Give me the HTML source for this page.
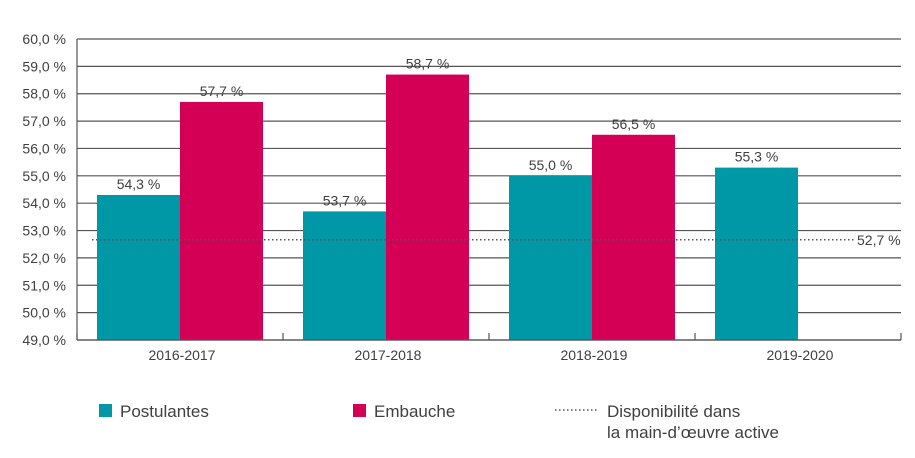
<!DOCTYPE html>
<html><head><meta charset="utf-8"><style>
body{margin:0;background:#fff;font-family:"Liberation Sans",sans-serif}
text{font-family:"Liberation Sans",sans-serif;fill:#404040}
</style></head><body>
<svg width="915" height="453" xmlns="http://www.w3.org/2000/svg">
<g id="g"></g>
<g>
<rect x="99" y="404" width="13" height="13" fill="#0097A7"/>
<text x="120" y="417" font-size="17">Postulantes</text>
<rect x="353" y="404" width="13" height="13" fill="#D40055"/>
<text x="374" y="417" font-size="17">Embauche</text>
<line x1="555" y1="410" x2="598" y2="410" stroke="#555" stroke-width="1.5" stroke-dasharray="1.5,2.5"/>
<text x="607" y="417" font-size="17">Disponibilité dans</text>
<text x="607" y="438" font-size="17">la main-d’œuvre active</text>
</g>
</svg>
<script>
const categories=["2016-2017","2017-2018","2018-2019","2019-2020"];
const postulantes=[54.3,53.7,55.0,55.3];
const embauche=[57.7,58.7,56.5,null];
const disponibilite=52.7;
const yTicks=[49,50,51,52,53,54,55,56,57,58,59,60];
const NS="http://www.w3.org/2000/svg";
const g=document.getElementById('g');
const L=77,R=901,T=39,B=340,ymin=49,ymax=60;
const y=v=>B-(v-ymin)/(ymax-ymin)*(B-T);
const gw=(R-L)/categories.length;
const fmt=v=>v.toFixed(1).replace('.',',')+' %';
function el(t,a){const e=document.createElementNS(NS,t);for(const k in a)e.setAttribute(k,a[k]);g.appendChild(e);return e;}
yTicks.forEach(v=>{
 const l=el('line',{x1:L,x2:R,y1:y(v),y2:y(v),stroke:'#555','stroke-width':1.2});
 
 
 const t=el('text',{x:66,y:y(v)+5,'text-anchor':'end','font-size':14});
 t.textContent=fmt(v);
 
 
});
const ax=el('line',{x1:L,x2:L,y1:T,y2:B,stroke:'#555','stroke-width':1.2});


for(let i=0;i<=categories.length;i++){
 const tk=el('line',{x1:L+i*gw,x2:L+i*gw,y1:B-7,y2:B,stroke:'#555','stroke-width':1.2});
 
 
}
const bw=83;
categories.forEach((c,i)=>{
 const x0=L+i*gw+20;
 [[postulantes[i],'#0097A7',0,'bar-postulantes'],[embauche[i],'#D40055',bw,'bar-embauche']].forEach(([v,col,off,nm])=>{
  if(v==null)return;
  const r=el('rect',{x:x0+off,y:y(v),width:bw,height:B-y(v),fill:col});
  
  
  const t=el('text',{x:x0+off+bw/2,y:y(v)-6,'text-anchor':'middle','font-size':14});
  t.textContent=fmt(v);
  
  
 });
 const t=el('text',{x:L+i*gw+gw/2+2,y:360,'text-anchor':'middle','font-size':14});
 t.textContent=c;
 
 
});
const xa=el('line',{x1:L,x2:R,y1:B,y2:B,stroke:'#555','stroke-width':1.2});


const dl=el('line',{x1:92,x2:855,y1:y(disponibilite)+1,y2:y(disponibilite)+1,stroke:'#555','stroke-width':1.5,'stroke-dasharray':'1.5,2.5'});


const dt=el('text',{x:857,y:y(disponibilite)+6,'font-size':14});
dt.textContent=fmt(disponibilite);


</script>
</body></html>
